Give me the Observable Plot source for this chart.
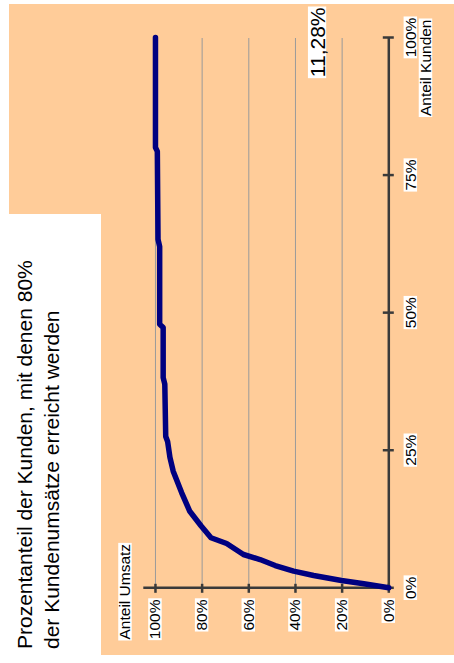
<!DOCTYPE html>
<html><head><meta charset="utf-8">
<script src="https://cdn.jsdelivr.net/npm/d3@7"></script>
<script src="https://cdn.jsdelivr.net/npm/@observablehq/plot@0.6"></script>
<style>
html,body{margin:0;padding:0;background:#fff;width:454px;height:663px;overflow:hidden;}
#stage{position:absolute;left:0;top:0;width:663px;height:454px;transform-origin:0 0;transform:translate(0px,663px) rotate(-90deg);font-family:"Liberation Sans",Arial,sans-serif;}
#peach{position:absolute;left:8px;top:9px;width:651px;height:445px;background:#FFCC99;}
#whitebox{position:absolute;left:0;top:0;width:449px;height:101px;background:#fff;}
#title{position:absolute;left:14px;top:11px;font-size:21px;line-height:27px;color:#000;white-space:nowrap;}
#chart{position:absolute;left:0;top:0;}
</style></head>
<body>
<div id="stage"><div id="peach"></div><div id="whitebox"></div><div id="chart"></div>
<div id="title">Prozentanteil der Kunden, mit denen 80%<br>der Kundenumsätze erreicht werden</div></div>
<script>
// Anteil Kunden (x) and cumulative Anteil Umsatz (y)
const kunden = [0, 0.0073, 0.0133, 0.0224, 0.0302, 0.0405, 0.0514, 0.0605, 0.0805, 0.0909, 0.1128, 0.139, 0.173, 0.212, 0.237, 0.266, 0.275, 0.37, 0.382, 0.473, 0.479, 0.62, 0.633, 0.793, 0.80, 1.0];
const umsatz = [0, 0.107, 0.203, 0.322, 0.408, 0.487, 0.552, 0.623, 0.695, 0.762, 0.805, 0.853, 0.888, 0.924, 0.938, 0.948, 0.956, 0.960, 0.967, 0.967, 0.982, 0.982, 0.989, 0.992, 1.0, 1.0];
const kundenTicks = [0, 0.25, 0.5, 0.75, 1];
const umsatzTicks = [0, 0.2, 0.4, 0.6, 0.8, 1];
const xLabel = ["Anteil Kunden"];
const yLabel = ["Anteil Umsatz"];
const resultLabel = ["11,28%"];

const pts = kunden.map((k, i) => ({k, u: umsatz[i]}));
const fmt = d3.format(".0%");
const axisColor = "#3a3a3a";

const chart = Plot.plot({
  width: 663, height: 454,
  marginLeft: 74.7, marginRight: 38, marginTop: 143.3, marginBottom: 65.7,
  style: {background: "transparent", fontFamily: "'Liberation Sans', Arial, sans-serif", fontSize: "15.5px", color: "#000", overflow: "visible"},
  x: {domain: [0, 1], ticks: kundenTicks, tickFormat: fmt, tickSize: 0, tickPadding: 16, label: null},
  y: {domain: [0, 1.05], ticks: umsatzTicks, tickFormat: fmt, tickSize: 0, tickPadding: 11.7, label: null},
  marks: [
    Plot.ruleY(umsatzTicks.filter(d => d > 0), {stroke: "#9a9a9a", strokeWidth: 1}),
    Plot.ruleY([0], {stroke: axisColor, strokeWidth: 2.5}),
    Plot.ruleX([0], {y1: 0, y2: 1.05, stroke: axisColor, strokeWidth: 2.5}),
    Plot.ruleX(kundenTicks, {x: d => d, y1: 0, y2: 0, insetTop: -5.5, insetBottom: -5.5, stroke: axisColor, strokeWidth: 2.5}),
    Plot.ruleY(umsatzTicks, {y: d => d, x1: 0, x2: 0, insetLeft: -4.5, insetRight: -4.5, stroke: axisColor, strokeWidth: 2.5}),
    Plot.line(pts, {x: "k", y: "u", stroke: "#000080", strokeWidth: 5.5}),
    Plot.text(yLabel, {frameAnchor: "top-left", dx: -51.7, dy: -18.3, textAnchor: "start", lineAnchor: "middle", fill: "#000"}),
    Plot.text(xLabel, {frameAnchor: "bottom-right", dx: 18, dy: 37.2, textAnchor: "end", lineAnchor: "middle", fill: "#000"}),
    Plot.text(resultLabel, {frameAnchor: "top-right", dx: 30, dy: 174, textAnchor: "end", lineAnchor: "middle", fontSize: 21, fill: "#000"})
  ]
});
document.getElementById("chart").appendChild(chart);

// white highlight boxes behind chart texts
chart.querySelectorAll("text").forEach(t => {
  const bb = t.getBBox();
  if (!bb.width) return;
  const fs = parseFloat(getComputedStyle(t).fontSize);
  const base = bb.y + 0.905 * fs;
  const r = document.createElementNS("http://www.w3.org/2000/svg", "rect");
  r.setAttribute("x", bb.x - 1);
  r.setAttribute("width", bb.width + 2);
  r.setAttribute("y", base - 0.79 * fs);
  r.setAttribute("height", 0.87 * fs);
  r.setAttribute("fill", "#fff");
  if (t.getAttribute("transform")) r.setAttribute("transform", t.getAttribute("transform"));
  t.parentNode.insertBefore(r, t);
});
</script>
</body></html>
